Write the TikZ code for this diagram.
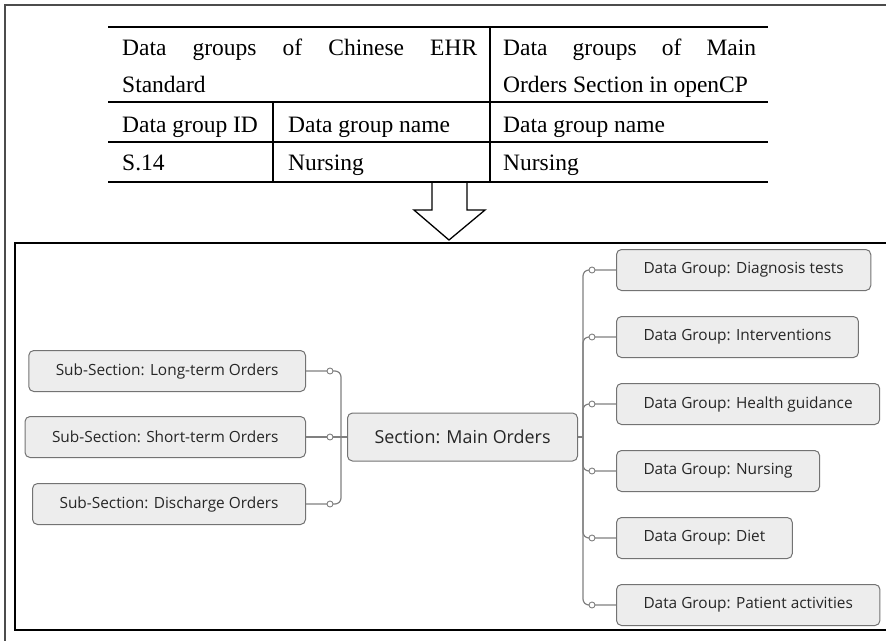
\documentclass[tikz,border=0pt]{standalone}
\usepackage{fontspec}
\setmainfont{Liberation Serif}
\newfontfamily\mapfont{Open Sans}
\usepackage{tikz}

\begin{document}
\begin{tikzpicture}[x=1pt,y=-1pt,
  thickrule/.style={line width=2.8pt},
  thinrule/.style={line width=1.6pt},
  cell/.style={anchor=base west,inner sep=0pt,font=\fontsize{23.5}{28}\selectfont},
  mapbox/.style={draw=black!55,fill=black!7,rounded corners=5pt,line width=1pt,
    minimum height=41pt,inner xsep=27pt,text=black!85,
    font=\mapfont\fontsize{15.4}{18}\selectfont},
  conn/.style={draw=black!50,line width=1.2pt,rounded corners=6pt},
  dot/.style={circle,draw=black!50,fill=white,line width=0.9pt,inner sep=0pt,minimum size=6pt}]
\useasboundingbox (0,0) rectangle (886,641);
\draw[black!70,line width=1.5pt] (886,5) -- (5,5) -- (5,641);

\draw[thickrule] (108,27) -- (768,27);
\draw[thickrule] (108,102) -- (768,102);
\draw[thinrule] (108,142) -- (768,142);
\draw[thickrule] (108,182) -- (768,182);
\draw[thinrule] (490,27) -- (490,182);
\draw[thinrule] (273,102) -- (273,182);
\node[cell] (hl1) at (122,55) {\makebox[355pt][s]{Data groups of Chinese EHR}};
\node[cell] (hl2) at (122,92) {Standard};
\node[cell] (hr1) at (503,55) {\makebox[253pt][s]{Data groups of Main}};
\node[cell] (hr2) at (503,92) {Orders Section in openCP};
\node[cell] (idh) at (122,132) {Data group ID};
\node[cell] (nmh) at (288,132) {Data group name};
\node[cell] (onh) at (503,132) {Data group name};
\node[cell] (idv) at (122,170) {S.14};
\node[cell] (nmv) at (288,170) {Nursing};
\node[cell] (onv) at (503,170) {Nursing};

\draw[line width=1.3pt] (432,182) -- (432,210) -- (414,210) -- (449,240)
  -- (485,210) -- (467,210) -- (467,182);
\draw[line width=1.8pt] (886,243) -- (15,243) -- (15,630) -- (886,630);

\node[mapbox,anchor=west,minimum height=48pt,inner xsep=27pt,
  font=\mapfont\fontsize{17.9}{21}\selectfont] (sec) at (347,437) {Section: Main Orders};
\node[mapbox,anchor=east] (sub1) at (306,371) {Sub-Section: Long-term Orders};
\node[mapbox,anchor=east] (sub2) at (306,437) {Sub-Section: Short-term Orders};
\node[mapbox,anchor=east] (sub3) at (306,504) {Sub-Section: Discharge Orders};
\foreach \dg/\y/\txt in {dg1/270/Diagnosis tests, dg2/337/Interventions,
    dg3/404/Health guidance, dg4/471/Nursing, dg5/538/Diet, dg6/605/Patient activities}
  \node[mapbox,anchor=west] (\dg) at (616,\y) {Data Group: \txt};

\coordinate (lj) at (341,437);
\coordinate (rj) at (583,437);
\draw[conn] (sub1.east) -| (lj);
\draw[conn] (sub3.east) -| (lj);
\draw[conn] (sub2.east) -- (sec.west);
\draw[conn] (sec.east) -- (rj);
\foreach \dg in {dg1,dg2,dg3,dg4,dg5,dg6}
  \draw[conn] (rj) |- (\dg.west);
\foreach \dg in {sub1,sub2,sub3}
  \node[dot] at ([xshift=24pt]\dg.east) {};
\foreach \dg in {dg1,dg2,dg3,dg4,dg5,dg6}
  \node[dot] at ([xshift=-24pt]\dg.west) {};
\end{tikzpicture}
\end{document}
